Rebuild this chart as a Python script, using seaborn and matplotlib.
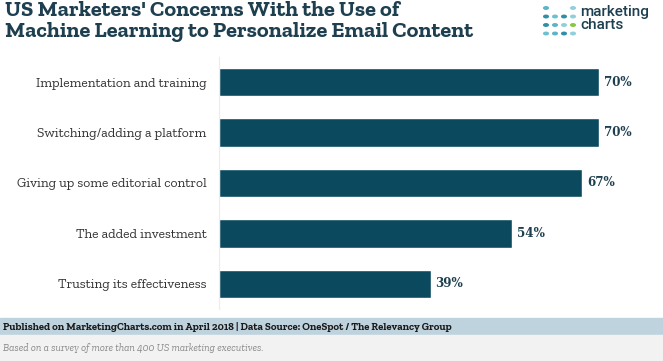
import matplotlib.pyplot as plt
import matplotlib.patches as patches
import seaborn as sns
import pandas as pd

categories = [
    "Implementation and training",
    "Switching/adding a platform",
    "Giving up some editorial control",
    "The added investment",
    "Trusting its effectiveness",
]
values = [70, 70, 67, 54, 39]

title = "US Marketers' Concerns With the Use of\nMachine Learning to Personalize Email Content"
footer = "Published on MarketingCharts.com in April 2018 | Data Source: OneSpot / The Relevancy Group"
note = "Based on a survey of more than 400 US marketing executives."

df = pd.DataFrame({"concern": categories, "share": values})

sns.set_style("white")
plt.rcParams["font.family"] = ["Zilla Slab", "DejaVu Serif"]

W, H = 663, 361
fig = plt.figure(figsize=(W / 100, H / 100), dpi=100)
ax = fig.add_axes([219 / W, 1 - 309 / H, 434 / W, 252 / H])

sns.barplot(data=df, x="share", y="concern", color="#0b4a5e", saturation=1,
            width=0.56, ax=ax)
ax.set_xlim(0, 80)
ax.set_ylim(4.5, -0.5)
ax.set_xlabel("")
ax.set_ylabel("")
ax.set_xticks([])
ax.tick_params(axis="y", length=0, pad=9, labelsize=9.8, labelcolor="#333333")
for s in ["top", "right", "bottom"]:
    ax.spines[s].set_visible(False)
ax.spines["left"].set_color("#ececec")
ax.spines["left"].set_linewidth(0.8)

for i, v in enumerate(values):
    ax.text(v + 0.9, i, f"{v}%", va="center", ha="left", fontsize=8.6,
            fontweight="bold", color="#1d3f4f", family="DejaVu Serif")

fig.text(5 / W, 1 - 1 / H, title, ha="left", va="top", fontsize=16,
         fontweight="bold", color="#1d3f4f", linespacing=1.08)

# logo
dot_cols = {
    (0, 0): "#5bb4c8", (3, 0): "#8fd0dc",
    (0, 1): "#2e8fa8", (1, 1): "#6cc0d0", (2, 1): "#2e8fa8", (3, 1): "#8fd0dc",
    (0, 2): "#2e8fa8", (1, 2): "#5bb4c8", (2, 2): "#8fd0dc", (3, 2): "#8cc63f",
    (0, 3): "#6cc0d0", (1, 3): "#5bb4c8", (2, 3): "#2e8fa8", (3, 3): "#8fd0dc",
}
for (cx, cy), c in dot_cols.items():
    fig.patches.append(patches.Circle(((546 + cx * 9) / W, 1 - (8 + cy * 8.5) / H),
                                      2.3 / W, color=c, transform=fig.transFigure))
fig.text(580 / W, 1 - 5 / H, "marketing\ncharts", ha="left", va="top",
         fontsize=11, color="#1d3f4f", family="Roboto", fontweight="medium",
         linespacing=0.95)

# footer bands
fig.patches.append(patches.Rectangle((0, 1 - 335 / H), 1, 17 / H, color="#bfd3df",
                                     transform=fig.transFigure, zorder=0))
fig.patches.append(patches.Rectangle((0, 0), 1, 26 / H, color="#f2f2f2",
                                     transform=fig.transFigure, zorder=0))
fig.text(3 / W, 1 - 326.5 / H, footer, ha="left", va="center", fontsize=7.7,
         fontweight="bold", color="#1a1a1a")
fig.text(3 / W, 1 - 348 / H, note, ha="left", va="center", fontsize=7.5,
         style="italic", color="#8a8a8a")

fig.savefig("out.png", dpi=100)
